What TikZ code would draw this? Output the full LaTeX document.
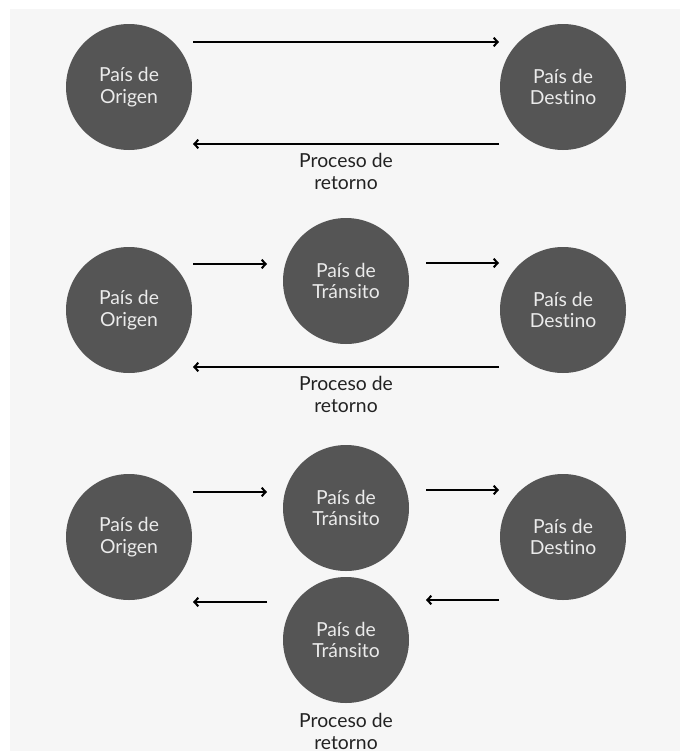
\documentclass[tikz,border=0pt]{standalone}
\usepackage{fontspec}
\setmainfont{Lato}[Ligatures=NoCommon]
\usetikzlibrary{arrows.meta}

\definecolor{fondo}{RGB}{246,246,246}
\definecolor{circulo}{RGB}{85,85,85}
\definecolor{textoclaro}{RGB}{235,235,235}
\definecolor{textooscuro}{RGB}{34,34,34}

\begin{document}
\begin{tikzpicture}[x=0.75pt,y=0.75pt,yscale=-1,xscale=1,
  pais/.style={circle,fill=circulo,minimum size=94.5pt,inner sep=0pt,
    align=center,text=textoclaro,font=\fontsize{14.5}{16}\selectfont},
  retorno/.style={align=center,text=textooscuro,font=\fontsize{14.5}{16.5}\selectfont},
  flecha/.style={line width=1.5pt,-{Straight Barb[length=3pt,width=6.5pt]}}]
\useasboundingbox (0,0) rectangle (680,753);
%Background
\fill [fondo] (10,9) rectangle (680,751);

%Row 1: origen -> destino
\node [pais] (o1) at (129,87) {País de\\Origen};
\node [pais] (d1) at (563,87) {País de\\Destino};
\coordinate (a1) at (193,42);
\coordinate (b1) at (499,42);
\coordinate (c1) at (499,144);
\coordinate (e1) at (193,144);
\draw [flecha] (a1) -- (b1);
\draw [flecha] (c1) -- (e1);
\node [retorno] (r1) at (346,171) {Proceso de\\retorno};

%Row 2: origen -> transito -> destino
\node [pais] (o2) at (129,310) {País de\\Origen};
\node [pais] (t2) at (346,281) {País de\\Tránsito};
\node [pais] (d2) at (563,310) {País de\\Destino};
\coordinate (a2) at (193,264);
\coordinate (b2) at (267,264);
\coordinate (f2) at (426,263);
\coordinate (g2) at (499,263);
\coordinate (c2) at (499,367);
\coordinate (e2) at (193,367);
\draw [flecha] (a2) -- (b2);
\draw [flecha] (f2) -- (g2);
\draw [flecha] (c2) -- (e2);
\node [retorno] (r2) at (346,394) {Proceso de\\retorno};

%Row 3: ida y vuelta por transito
\node [pais] (o3) at (129,537) {País de\\Origen};
\node [pais] (t3) at (346,508) {País de\\Tránsito};
\node [pais] (d3) at (563,537) {País de\\Destino};
\node [pais] (u3) at (346,640) {País de\\Tránsito};
\coordinate (a3) at (193,492);
\coordinate (b3) at (267,492);
\coordinate (f3) at (426,490);
\coordinate (g3) at (499,490);
\coordinate (c3) at (499,600);
\coordinate (h3) at (426,600);
\coordinate (k3) at (267,602);
\coordinate (e3) at (193,602);
\draw [flecha] (a3) -- (b3);
\draw [flecha] (f3) -- (g3);
\draw [flecha] (c3) -- (h3);
\draw [flecha] (k3) -- (e3);
\node [retorno] (r3) at (346,731) {Proceso de\\retorno};
\end{tikzpicture}
\end{document}
